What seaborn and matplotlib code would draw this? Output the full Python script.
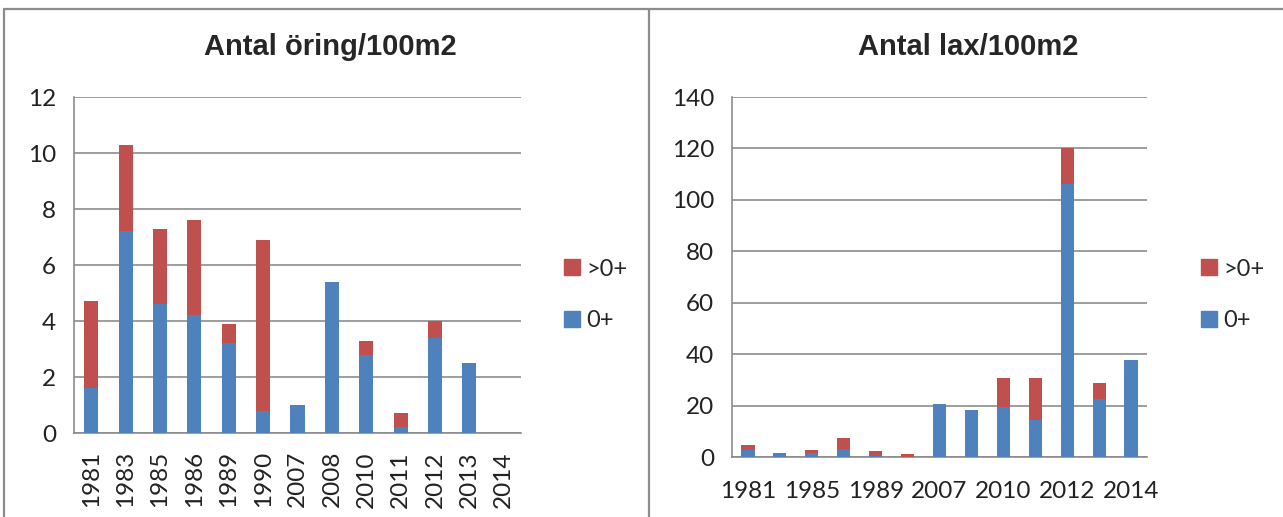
import matplotlib.pyplot as plt
import matplotlib.patches as mpatches
import matplotlib.lines as mlines
import numpy as np
import pandas as pd
import seaborn as sns

# data
years = ['1981', '1983', '1985', '1986', '1989', '1990', '2007',
         '2008', '2010', '2011', '2012', '2013', '2014']
oring_0 = [1.6, 7.2, 4.6, 4.2, 3.2, 0.8, 1.0, 5.4, 2.8, 0.2, 3.4, 2.5, 0.0]
oring_older = [3.1, 3.1, 2.7, 3.4, 0.7, 6.1, 0.0, 0.0, 0.5, 0.5, 0.6, 0.0, 0.0]
lax_0 = [2.9, 1.7, 1.7, 3.3, 0.5, 0.0, 20.8, 18.3, 19.3, 14.4, 106.0, 22.7, 37.8]
lax_older = [1.7, 0.0, 1.0, 3.9, 1.7, 1.2, 0.0, 0.0, 11.5, 16.4, 14.0, 6.1, 0.0]

blue = '#4F81BD'
red = '#C0504D'
grey = '#8C8C8C'

sns.set_style('white')
plt.rcParams['font.family'] = ['Lato', 'DejaVu Sans']

W, H = 1283, 517
fig = plt.figure(figsize=(W / 100, H / 100), dpi=100)


def px_axes(x0, y0, x1, y1):
    return fig.add_axes([x0 / W, 1 - y1 / H, (x1 - x0) / W, (y1 - y0) / H])


def stacked(ax, young, older, title, title_x, ymax, ystep, rotate, every, xpad, leg_xy):
    df = pd.DataFrame({'year': years, '0+': young,
                       'total': np.array(young) + np.array(older)})
    sns.barplot(data=df, x='year', y='total', color=red, width=0.41,
                saturation=1, linewidth=0, ax=ax, zorder=3)
    sns.barplot(data=df, x='year', y='0+', color=blue, width=0.41,
                saturation=1, linewidth=0, ax=ax, zorder=3)
    ax.set_ylim(0, ymax)
    ax.set_xlim(-0.5, len(years) - 0.5)
    ax.set_yticks(np.arange(0, ymax + 1, ystep))
    ax.yaxis.grid(True, color=grey, lw=1.2, zorder=0)
    ax.set_axisbelow(True)
    for s in ['top', 'right']:
        ax.spines[s].set_visible(False)
    for s in ['left', 'bottom']:
        ax.spines[s].set_color(grey)
        ax.spines[s].set_linewidth(1.2)
    ax.set_xlabel('')
    ax.set_ylabel('')
    labels = [y if i % every == 0 else '' for i, y in enumerate(years)]
    ax.set_xticks(range(len(years)))
    ax.set_xticklabels(labels, rotation=rotate, fontsize=17.5, color='#222222')
    ax.set_xticks(np.arange(-0.5, len(years), 1), minor=True)
    ax.tick_params(axis='x', which='major', length=0, pad=xpad)
    ax.tick_params(axis='x', which='minor', length=8, color=grey, width=1.2)
    ax.tick_params(axis='y', length=7, color=grey, width=1.2, labelsize=17.5,
                   labelcolor='#222222', pad=6)
    # title is centred on the whole panel, not on the plot area
    fig.text(title_x / W, 1 - 47 / H, title, ha='center', va='center',
             fontsize=21, fontweight='bold',
             family=['Liberation Sans', 'DejaVu Sans'])
    handles = [mpatches.Patch(color=red, label='>0+'),
               mpatches.Patch(color=blue, label='0+')]
    fig.legend(handles=handles, loc='center left',
               bbox_to_anchor=(leg_xy[0] / W, 1 - leg_xy[1] / H),
               frameon=False, fontsize=17, handlelength=0.65,
               handleheight=0.65, handletextpad=0.3, labelspacing=1.3)


ax1 = px_axes(74, 97, 521, 433)
stacked(ax1, oring_0, oring_older, 'Antal öring/100m2', 330, 12, 2, 90, 1, 13,
        (543, 295))

ax2 = px_axes(732, 97, 1147, 457)
stacked(ax2, lax_0, lax_older, 'Antal lax/100m2', 968, 140, 20, 0, 2, 17,
        (1180, 295))

# panel borders like the spreadsheet frames
for x in [4, 649]:
    fig.add_artist(mlines.Line2D([x / W, x / W], [0, 1 - 9 / H], color=grey, lw=1.6))
fig.add_artist(mlines.Line2D([4 / W, 1], [1 - 9 / H, 1 - 9 / H], color=grey, lw=1.6))

fig.savefig('out.png', dpi=100, facecolor='white')
